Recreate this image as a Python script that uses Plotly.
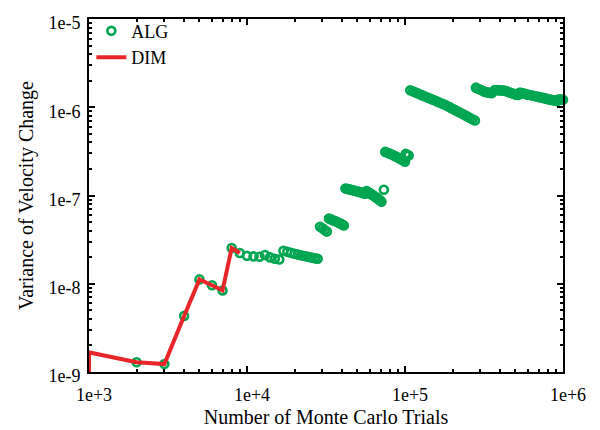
import plotly.graph_objects as go

# ---------------- data ----------------
# DIM series (red line)
dim_x = [1000, 1000, 2000, 3000, 4000, 5000, 6000, 7000, 8000, 9000]
dim_y = [5e-10, 1.67e-9, 1.29e-9, 1.23e-9, 4.32e-9, 1.12e-8, 9.6e-9, 8.4e-9, 2.54e-8, 2.23e-8]

# ALG series (open circles), in segments
alg_x_a = [1000, 2000, 3000, 4000, 5000, 6000, 7000, 8000, 9000]
alg_y_a = [1.67e-9, 1.29e-9, 1.23e-9, 4.32e-9, 1.12e-8, 9.6e-9, 8.4e-9, 2.54e-8, 2.23e-8]

alg_x_b = [10000, 11000, 12000, 13000, 14000, 15000, 16000, 17000, 18000, 19000,
           20000, 21000, 22000, 23000, 24000, 25000, 26000, 27000, 28000]
alg_y_b = [2.07e-8, 2.04e-8, 2.02e-8, 2.12e-8, 1.99e-8, 1.92e-8, 1.88e-8, 2.36e-8, 2.30e-8, 2.24e-8,
           2.19e-8, 2.14e-8, 2.10e-8, 2.06e-8, 2.03e-8, 2.00e-8, 1.97e-8, 1.94e-8, 1.92e-8]

alg_x_c = [29000, 30000, 31000, 32000]
alg_y_c = [4.43e-8, 4.25e-8, 4.07e-8, 3.90e-8]

alg_x_d = [33000, 34000, 35000, 36000, 37000, 38000, 39000, 40000, 41000]
alg_y_d = [5.48e-8, 5.36e-8, 5.25e-8, 5.14e-8, 5.03e-8, 4.92e-8, 4.81e-8, 4.68e-8, 4.57e-8]

alg_x_e = [42000, 43000, 44000, 45000, 46000, 47000, 48000, 49000, 50000, 51000,
           52000, 53000, 54000, 55000, 56000, 57000, 58000, 59000, 60000, 61000,
           62000, 63000, 64000, 65000, 66000, 67000, 68000, 69000, 70000, 71000, 73500]
alg_y_e = [1.200e-7, 1.189e-7, 1.178e-7, 1.167e-7, 1.156e-7, 1.145e-7, 1.134e-7, 1.123e-7, 1.112e-7, 1.101e-7,
           1.090e-7, 1.079e-7, 1.068e-7, 1.057e-7, 1.046e-7, 1.120e-7, 1.100e-7, 1.080e-7, 1.060e-7, 1.040e-7,
           1.020e-7, 1.000e-7, 9.81e-8, 9.62e-8, 9.43e-8, 9.24e-8, 9.06e-8, 8.88e-8, 8.70e-8, 8.52e-8, 1.16e-7]

alg_x_f = [75000, 77500, 80000, 82500, 85000, 87500, 90000, 92500, 95000, 97500, 100000,
           101000, 102500, 104000, 105500]
alg_y_f = [3.12e-7, 3.05e-7, 2.98e-7, 2.91e-7, 2.84e-7, 2.77e-7, 2.70e-7, 2.63e-7, 2.56e-7, 2.49e-7,
           2.42e-7, 2.96e-7, 2.92e-7, 2.88e-7, 2.84e-7]

alg_x_g = [108000, 112000, 116000, 120000, 125000, 130000, 135000, 140000, 145000, 150000,
           156000, 162000, 168000, 174000, 180000, 187000, 194000, 201000, 208000, 216000,
           224000, 232000, 240000, 249000, 258000, 267000, 277000]
alg_y_g = [1.556e-6, 1.514e-6, 1.475e-6, 1.438e-6, 1.394e-6, 1.353e-6, 1.316e-6, 1.281e-6, 1.248e-6, 1.217e-6,
           1.182e-6, 1.149e-6, 1.118e-6, 1.090e-6, 1.062e-6, 1.025e-6, 9.90e-7, 9.57e-7, 9.27e-7, 8.94e-7,
           8.64e-7, 8.36e-7, 8.10e-7, 7.82e-7, 7.56e-7, 7.32e-7, 7.07e-7]

alg_x_h = [281000, 290000, 300000, 310000, 321000, 330000, 340000, 347000, 355000,
           370000, 380000, 390000, 400000, 410000, 420000, 429000, 440000, 450000, 462000,
           475000, 486000, 497000, 508000, 520000,
           530000, 540000, 550000, 565000, 580000, 598000, 618000, 638000, 660000, 680000,
           700000, 716000, 733000, 750000, 770000, 790000, 810000, 830000, 850000, 870000,
           890000, 905000, 920000,
           940000, 960000, 980000, 1000000]
alg_y_h = [1.667e-6, 1.62e-6, 1.58e-6, 1.535e-6, 1.49e-6, 1.475e-6, 1.46e-6, 1.455e-6, 1.447e-6,
           1.57e-6, 1.565e-6, 1.56e-6, 1.555e-6, 1.55e-6, 1.545e-6, 1.54e-6, 1.515e-6, 1.49e-6, 1.465e-6,
           1.44e-6, 1.42e-6, 1.40e-6, 1.39e-6, 1.38e-6,
           1.46e-6, 1.455e-6, 1.447e-6, 1.43e-6, 1.41e-6, 1.39e-6, 1.375e-6, 1.357e-6, 1.34e-6, 1.325e-6,
           1.31e-6, 1.30e-6, 1.29e-6, 1.275e-6, 1.26e-6, 1.245e-6, 1.23e-6, 1.22e-6, 1.21e-6, 1.197e-6,
           1.185e-6, 1.182e-6, 1.18e-6,
           1.23e-6, 1.225e-6, 1.22e-6, 1.215e-6]

# axis ticks
x_tickvals = [1e3, 1e4, 1e5, 1e6]
x_ticktext = ["1e+3", "1e+4", "1e+5", "1e+6"]
y_tickvals = [1e-9, 1e-8, 1e-7, 1e-6, 1e-5]
y_ticktext = ["1e-9", "1e-8", "1e-7", "1e-6", "1e-5"]
minor_mult = [2, 3, 4, 5, 6, 7, 8, 9]

# ---------------- figure ----------------
alg_x = alg_x_a + alg_x_b + alg_x_c + alg_x_d + alg_x_e + alg_x_f + alg_x_g + alg_x_h
alg_y = alg_y_a + alg_y_b + alg_y_c + alg_y_d + alg_y_e + alg_y_f + alg_y_g + alg_y_h

GREEN = "#00a651"
RED = "#e8262a"
FONT = "Liberation Serif, Times New Roman, serif"

x_minor = [m * v for v in x_tickvals[:-1] for m in minor_mult]
y_minor = [m * v for v in y_tickvals[:-1] for m in minor_mult]

fig = go.Figure()
fig.add_trace(go.Scatter(
    x=alg_x, y=alg_y, mode="markers", name="ALG", cliponaxis=False,
    marker=dict(symbol="circle-open", size=8, color=GREEN, line=dict(width=2.6, color=GREEN)),
))
fig.add_trace(go.Scatter(
    x=dim_x, y=dim_y, mode="lines", name="DIM",
    line=dict(color=RED, width=4),
))

common = dict(
    showline=True, linecolor="black", linewidth=2, mirror="allticks",
    ticks="inside", ticklen=6, tickwidth=1.5, tickcolor="black",
    showgrid=False, zeroline=False,
    tickfont=dict(family=FONT, size=18, color="black"),
)

fig.update_xaxes(
    type="log", range=[3, 6], tickmode="array", tickvals=x_tickvals, ticktext=x_ticktext,
    minor=dict(ticks="inside", ticklen=3, tickwidth=1.5, tickcolor="black",
               tickmode="array", tickvals=x_minor, showgrid=False),
    title=dict(text="Number of Monte Carlo Trials", font=dict(family=FONT, size=20, color="black"),
               standoff=6),
    ticklabelshift=5, ticklabelstandoff=5,
    **common,
)
fig.update_yaxes(
    type="log", range=[-9.00001, -4.99999], tickmode="array", tickvals=y_tickvals, ticktext=y_ticktext,
    minor=dict(ticks="inside", ticklen=3, tickwidth=1.5, tickcolor="black",
               tickmode="array", tickvals=y_minor, showgrid=False),
    title=dict(text="Variance of Velocity Change", font=dict(family=FONT, size=20, color="black"),
               standoff=9),
    ticklabelshift=4, ticklabelstandoff=3,
    **common,
)

# the page adds an 8px body margin, so the figure is 8px smaller on each axis
fig.update_layout(
    width=592, height=422,
    margin=dict(l=81, r=37, t=5, b=58),
    paper_bgcolor="white", plot_bgcolor="white",
    font=dict(family=FONT, size=18, color="black"),
    showlegend=True,
    legend=dict(x=0.005, y=1.018, xanchor="left", yanchor="top",
                bgcolor="rgba(0,0,0,0)", font=dict(family=FONT, size=18, color="black")),
)

fig.write_html("out.html")
